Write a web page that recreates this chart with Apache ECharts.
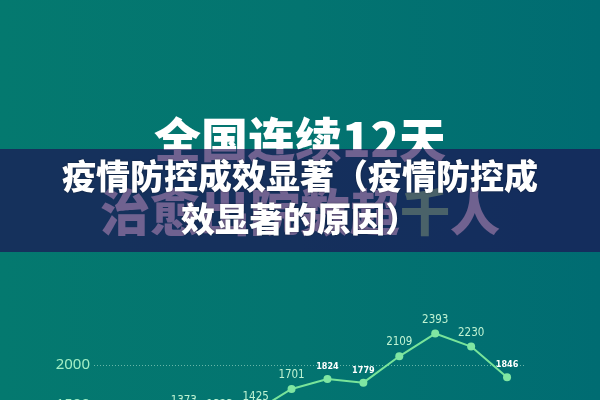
<!DOCTYPE html>
<html>
<head>
<meta charset="utf-8">
<script src="https://cdn.jsdelivr.net/npm/echarts@6/dist/echarts.min.js"></script>
<style>
html,body{margin:0;padding:0;background:#037470;}
#main{width:600px;height:400px;}
</style>
</head>
<body>
<div id="main"></div>
<script>
// ---- data ----
const days = ['2月12日','2月13日','2月14日','2月15日','2月16日','2月17日','2月18日','2月19日','2月20日','2月21日','2月22日','2月23日'];
const discharged = [1171, 1081, 1373, 1323, 1425, 1701, 1824, 1779, 2109, 2393, 2230, 1846];
const yTicks = [1000, 1500, 2000, 2500];
const headline1 = '全国连续12天';
const headline2a = '治愈出院数超';
const headline2b = '千';
const headline2c = '人';
const bannerLine1 = '疫情防控成效显著（疫情防控成';
const bannerLine2 = '效显著的原因）';

const CJK = '"Noto Sans CJK SC","Noto Sans",sans-serif';
const NARROW = '"DejaVu Sans Condensed","Liberation Sans Narrow",sans-serif';
const smallLabelIdx = [6, 7, 11];

const chart = echarts.init(document.getElementById('main'), null, {renderer: 'canvas'});
chart.setOption({
  animation: false,
  graphic: [
    {type: 'rect', z: -10, silent: true, shape: {x: 0, y: 0, width: 600, height: 400},
     style: {fill: new echarts.graphic.LinearGradient(0, 0, 1, 0, [
       {offset: 0, color: '#04796f'}, {offset: 0.5, color: '#037470'}, {offset: 1, color: '#006c72'}])}},
    {type: 'text', z: 1, silent: true, left: 'center', top: 116,
     style: {text: headline1, fill: '#ffffff', font: '900 47px ' + CJK}},
    {type: 'text', z: 1, silent: true, left: 'center', top: 187,
     style: {text: '{w|' + headline2a + '}{g|' + headline2b + '}{w|' + headline2c + '}',
       rich: {w: {fill: '#ffffff', font: '900 50px ' + CJK}, g: {fill: '#97ff92', font: '900 50px ' + CJK}}}},
    {type: 'rect', z: 2, silent: true, shape: {x: 0, y: 149, width: 600, height: 103},
     style: {fill: 'rgba(32,9,82,0.64)'}},
    {type: 'text', z: 3, silent: true, left: 'center', top: 159,
     style: {text: bannerLine1, fill: '#ffffff', font: '900 34px ' + CJK,
       textShadowColor: 'rgba(0,0,0,0.45)', textShadowBlur: 2}},
    {type: 'text', z: 3, silent: true, left: 'center', top: 202,
     style: {text: bannerLine2, fill: '#ffffff', font: '900 34px ' + CJK,
       textShadowColor: 'rgba(0,0,0,0.45)', textShadowBlur: 2}}
  ],
  grid: {left: 94, width: 431, top: 325, height: 120, containLabel: false, outerBoundsMode: 'none'},
  xAxis: {
    type: 'category', data: days, boundaryGap: true, show: false
  },
  yAxis: {
    type: 'value', min: yTicks[0], max: yTicks[yTicks.length - 1], interval: 500,
    axisLine: {show: false}, axisTick: {show: false},
    axisLabel: {color: '#a3efc5', fontSize: 15, margin: 4, showMaxLabel: false,
      fontFamily: '"Noto Sans",sans-serif', formatter: v => String(v)},
    splitLine: {show: true, showMaxLine: false,
      lineStyle: {color: 'rgba(170,225,205,0.6)', type: [1, 2], width: 1}}
  },
  series: [{
    type: 'line', data: discharged,
    symbol: 'circle', symbolSize: 8,
    lineStyle: {color: '#78e49a', width: 2},
    itemStyle: {color: '#7fe6a2'},
    label: {
      show: true, position: 'top', distance: 4,
      formatter: p => (smallLabelIdx.indexOf(p.dataIndex) >= 0 ? '{s|' : '{b|') + p.value + '}',
      rich: {
        b: {color: '#bff3d2', fontSize: 11.5, fontFamily: NARROW},
        s: {color: '#ffffff', fontSize: 9, fontWeight: 'bold', fontFamily: NARROW}
      }
    }
  }]
});
</script>
</body>
</html>
